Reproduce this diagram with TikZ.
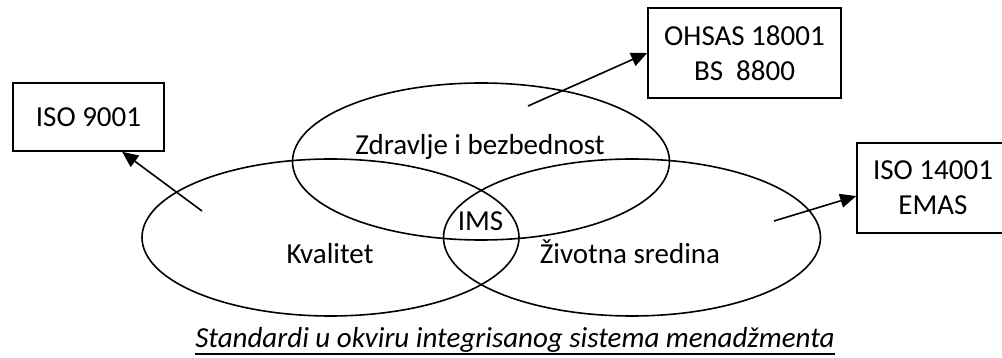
\documentclass[tikz,border=0pt]{standalone}
\usepackage{fontspec}
\setmainfont{Carlito}
\usetikzlibrary{shapes.geometric,arrows.meta}
\begin{document}
\begin{tikzpicture}[x=1pt,y=-1pt,
  set/.style={draw, ellipse, minimum width=377pt, minimum height=157pt, inner sep=0pt, line width=1.6pt},
  stdbox/.style={draw, rectangle, line width=1.6pt, align=center, inner sep=0pt,
    font=\fontsize{29}{35}\selectfont},
  lbl/.style={anchor=base, inner sep=0pt, font=\fontsize{29}{35}\selectfont},
  link/.style={-{Triangle[length=16pt,width=14pt]}, line width=1.6pt}
]
\useasboundingbox (0,0) rectangle (1002,358);

% the three management areas
\node[set] (kval) at (330.5,237.5) {};
\node[set] (zdr)  at (481,161.5) {};
\node[set] (ziv)  at (632,237.5) {};

\node[lbl] (tzdr)  at (480,155)   {Zdravlje i bezbednost};
\node[lbl] (tkval) at (330,264)   {Kvalitet};
\node[lbl] (tims)  at (480.5,231) {IMS};
\node[lbl] (tziv)  at (630,264)   {Životna sredina};

% standards for each area
\node[stdbox, minimum width=151pt, minimum height=68pt] (iso9)  at (88.5,117) {ISO 9001};
\node[stdbox, minimum width=193pt, minimum height=90pt] (ohsas) at (744.5,53) {OHSAS 18001\\BS\ \ 8800};
\node[stdbox, minimum width=152pt, minimum height=90pt] (iso14) at (933,188)  {ISO 14001\\EMAS};

% links from each area to its standards
\coordinate (kt) at (202,211);
\coordinate (zt) at (528,106);
\coordinate (vt) at (774,221);
\draw[link] (kt) -- (iso9.-46);
\draw[link] (zt) -- (ohsas.west);
\draw[link] (vt) -- (iso14.186.75);

% caption
\node[lbl, font=\fontsize{29}{35}\selectfont\itshape] (cap) at (515,347)
  {Standardi u okviru integrisanog sistema menadžmenta};
\draw[line width=1.6pt] ([yshift=-7pt]cap.base west) -- ([yshift=-7pt]cap.base east);
\end{tikzpicture}
\end{document}
